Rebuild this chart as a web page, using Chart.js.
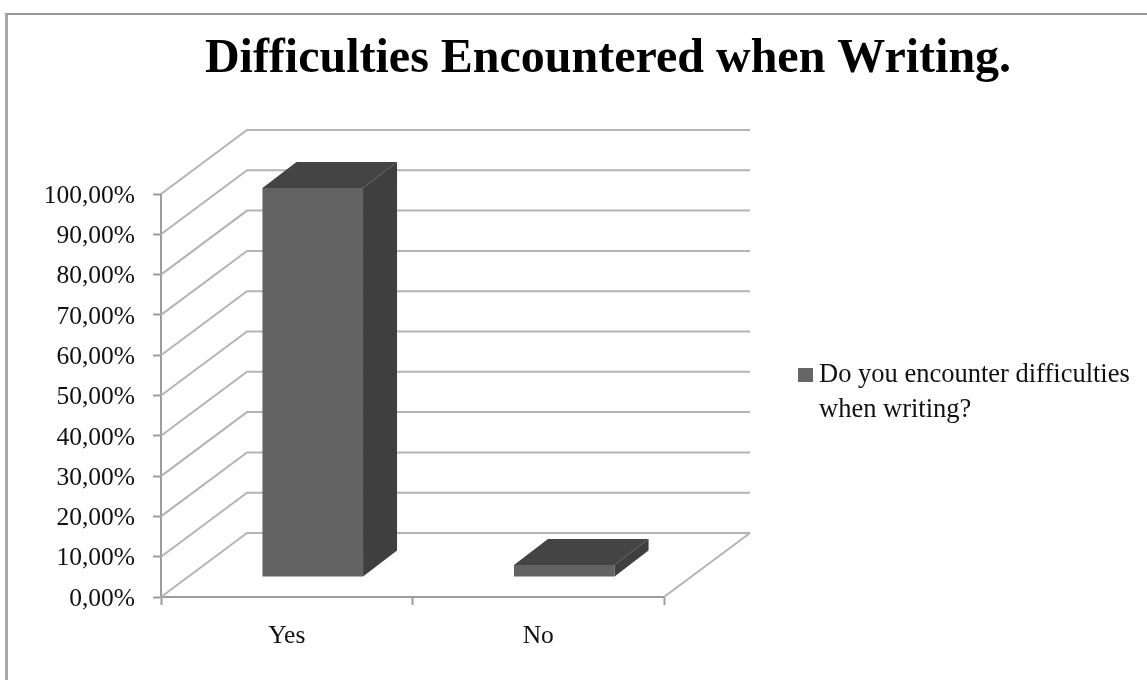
<!DOCTYPE html>
<html>
<head>
<meta charset="utf-8">
<title>Difficulties Encountered when Writing.</title>
<script src="https://cdn.jsdelivr.net/npm/chart.js@4"></script>
<style>
  body { margin: 0; background: #fff; }
  #wrap { position: relative; width: 1147px; height: 680px; overflow: hidden; }
  #frame { position: absolute; left: 5px; top: 13px; right: -5px; bottom: -5px;
           border-top: 2px solid #979797; border-left: 3px solid #a8a8a8; }
  canvas { position: absolute; left: 0; top: 0; filter: blur(0.4px); }
</style>
</head>
<body>
<div id="wrap">
  <div id="frame"></div>
  <canvas id="grafico" width="1147" height="680"></canvas>
</div>
<script>
const titulo = "Difficulties Encountered when Writing.";
const categorias = ["Yes", "No"];
const valores = [96.5, 3];
const yMin = 0;
const yMax = 100;
const yPasso = 10;
const legendaLinhas = ["Do you encounter difficulties", "when writing?"];

const fonte = "'Liberation Serif', 'Times New Roman', serif";

// profundidade do efeito 3D
const paredeX = 86, paredeY = -64;
const barraDx = 26, barraDy = -20;
const fundoX = 34, fundoY = -26;

function linha(ctx, pts) {
  ctx.beginPath();
  pts.forEach((p, i) => i ? ctx.lineTo(p[0], p[1]) : ctx.moveTo(p[0], p[1]));
  ctx.stroke();
}

function face(ctx, pts, cor) {
  ctx.fillStyle = cor;
  ctx.beginPath();
  pts.forEach((p, i) => i ? ctx.lineTo(p[0], p[1]) : ctx.moveTo(p[0], p[1]));
  ctx.closePath();
  ctx.fill();
}

const efeito3d = {
  id: "efeito3d",
  afterLayout(chart) {
    // titulo centrado como no original, nao no canvas
    chart.titleBlock.left = 69;
    chart.titleBlock.right = 1147;
  },
  beforeDatasetsDraw(chart) {
    const { ctx, scales: { x, y } } = chart;
    ctx.save();
    ctx.strokeStyle = "#b4b4b4";
    ctx.lineWidth = 2;
    y.ticks.forEach(t => {
      const py = y.getPixelForValue(t.value);
      linha(ctx, [[x.left, py], [x.left + paredeX, py + paredeY], [x.right + paredeX, py + paredeY]]);
    });
    const base = y.getPixelForValue(yMin);
    linha(ctx, [[x.right, base], [x.right + paredeX, base + paredeY]]);
    ctx.restore();

    // barras deslocadas para o meio do piso
    ctx.save();
    ctx.translate(barraDx, barraDy);
  },
  afterDatasetsDraw(chart) {
    const { ctx } = chart;
    ctx.restore();
    chart.getDatasetMeta(0).data.forEach(b => {
      const l = b.x - b.width / 2 + barraDx, r = b.x + b.width / 2 + barraDx;
      const t = b.y + barraDy, f = b.base + barraDy;
      face(ctx, [[l, t], [r, t], [r + fundoX, t + fundoY], [l + fundoX, t + fundoY]], "#444444");
      face(ctx, [[r, t], [r + fundoX, t + fundoY], [r + fundoX, f + fundoY], [r, f]], "#3f3f3f");
    });
  },
  afterDraw(chart) {
    const { ctx } = chart;
    ctx.save();
    ctx.fillStyle = "#666666";
    ctx.fillRect(798, 368, 15, 14);
    ctx.fillStyle = "#111";
    ctx.font = "26.5px " + fonte;
    ctx.textBaseline = "alphabetic";
    ctx.fillText(legendaLinhas[0], 819, 382);
    ctx.fillText(legendaLinhas[1], 819, 417);
    ctx.restore();
  }
};

new Chart(document.getElementById("grafico"), {
  type: "bar",
  data: {
    labels: categorias,
    datasets: [{
      label: legendaLinhas.join(" "),
      data: valores,
      backgroundColor: "#636363",
      barPercentage: 0.4,
      categoryPercentage: 1,
      clip: false
    }]
  },
  options: {
    responsive: false,
    animation: false,
    layout: { padding: { left: 0, right: 483, top: 0, bottom: 0 } },
    plugins: {
      legend: { display: false },
      tooltip: { enabled: false },
      title: {
        display: true,
        text: titulo,
        color: "#000",
        font: { family: fonte, size: 48, weight: "bold" },
        padding: { top: 31, bottom: 105.4 }
      }
    },
    scales: {
      x: {
        afterFit(s) { s.height = 83; },
        border: { color: "#9c9c9c", width: 2 },
        grid: { drawOnChartArea: false, tickLength: 8, tickColor: "#9c9c9c", tickWidth: 2 },
        ticks: { color: "#111", padding: 16, font: { family: fonte, size: 25.5 } }
      },
      y: {
        min: yMin,
        max: yMax,
        afterFit(s) { s.width = 161; },
        border: { color: "#9c9c9c", width: 2 },
        grid: { drawOnChartArea: false, tickLength: 8, tickColor: "#9c9c9c", tickWidth: 2 },
        ticks: {
          stepSize: yPasso,
          color: "#111",
          padding: 18,
          labelOffset: 2,
          font: { family: fonte, size: 25.5 },
          callback: v => v.toFixed(2).replace(".", ",") + "%"
        }
      }
    }
  },
  plugins: [efeito3d]
});
</script>
</body>
</html>
